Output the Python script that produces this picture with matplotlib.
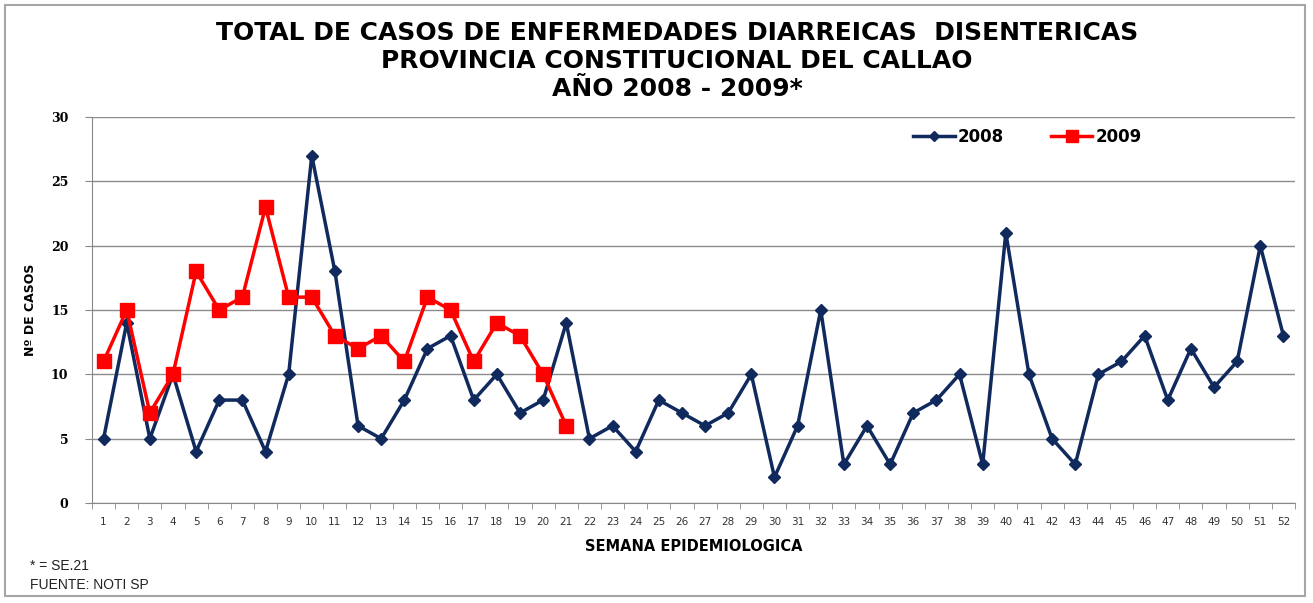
import matplotlib
matplotlib.use("Agg")
import matplotlib.pyplot as plt
from matplotlib.patches import Rectangle

weeks = list(range(1, 53))
casos_2008 = [5, 14, 5, 10, 4, 8, 8, 4, 10, 27, 18, 6, 5, 8, 12, 13, 8, 10, 7, 8,
              14, 5, 6, 4, 8, 7, 6, 7, 10, 2, 6, 15, 3, 6, 3, 7, 8, 10, 3, 21,
              10, 5, 3, 10, 11, 13, 8, 12, 9, 11, 20, 13]
weeks_2009 = list(range(1, 22))
casos_2009 = [11, 15, 7, 10, 18, 15, 16, 23, 16, 16, 13, 12, 13, 11, 16, 15, 11, 14, 13, 10, 6]
y_ticks = [0, 5, 10, 15, 20, 25, 30]

title = ("TOTAL DE CASOS DE ENFERMEDADES DIARREICAS  DISENTERICAS\n"
         "PROVINCIA CONSTITUCIONAL DEL CALLAO\n"
         "AÑO 2008 - 2009*")

navy = "#112a5e"
red = "#ff0000"

fig = plt.figure(figsize=(13.13, 6.03), dpi=100)
fig.patches.append(Rectangle((0.004, 0.012), 0.99, 0.98, transform=fig.transFigure,
                             fill=False, edgecolor="#a6a6a6", linewidth=1.5))
ax = fig.add_axes([92 / 1313, 1 - 503 / 603, (1295 - 92) / 1313, (503 - 117) / 603])

ax.plot(weeks, casos_2008, color=navy, lw=2.5, marker="D", ms=6.5, label="2008", zorder=3)
ax.plot(weeks_2009, casos_2009, color=red, lw=2.5, marker="s", ms=10, label="2009", zorder=4)

ax.set_xlim(0.5, 52.5)
ax.set_ylim(0, 30)
ax.set_yticks(y_ticks)
ax.set_yticklabels([str(v) for v in y_ticks], fontsize=9, fontweight="bold",
                   family="DejaVu Serif")
ax.set_xticks(weeks)
ax.set_xticklabels([str(w) for w in weeks], fontsize=7.5, family="DejaVu Sans",
                   color="#333333")
ax.set_xticks([w + 0.5 for w in range(0, 53)], minor=True)
ax.tick_params(axis="x", which="major", length=0, pad=10)
ax.tick_params(axis="x", which="minor", length=4, color="#888888")
ax.tick_params(axis="y", length=5, color="#888888", pad=12)
ax.grid(axis="y", color="#8c8c8c", lw=1)
ax.set_axisbelow(True)
for s in ["top", "right"]:
    ax.spines[s].set_visible(False)
ax.spines["left"].set_color("#888888")
ax.spines["bottom"].set_color("#888888")

ax.set_ylabel("Nº DE CASOS", fontsize=9, fontweight="bold", family="DejaVu Sans", labelpad=10)
ax.set_xlabel("SEMANA EPIDEMIOLOGICA", fontsize=10.5, fontweight="bold", family="DejaVu Sans",
              labelpad=9)

fig.text(677 / 1313, 1 - 21 / 603, title, ha="center", va="top", fontsize=18,
         fontweight="bold", family="DejaVu Sans", linespacing=1.2)

ax.legend(loc="upper left", bbox_to_anchor=(0.67, 1.01), ncol=2, frameon=False,
          prop={"family": "DejaVu Sans", "weight": "bold", "size": 12},
          handlelength=2.5, handletextpad=0.2, columnspacing=2.8, markerscale=0.8)

fig.text(30 / 1313, 1 - 566 / 603, "* = SE.21", fontsize=10, family="Liberation Sans",
         color="#222222", va="center")
fig.text(30 / 1313, 1 - 585 / 603, "FUENTE: NOTI SP", fontsize=10, family="Liberation Sans",
         color="#222222", va="center")

fig.savefig("out.png", dpi=100)
